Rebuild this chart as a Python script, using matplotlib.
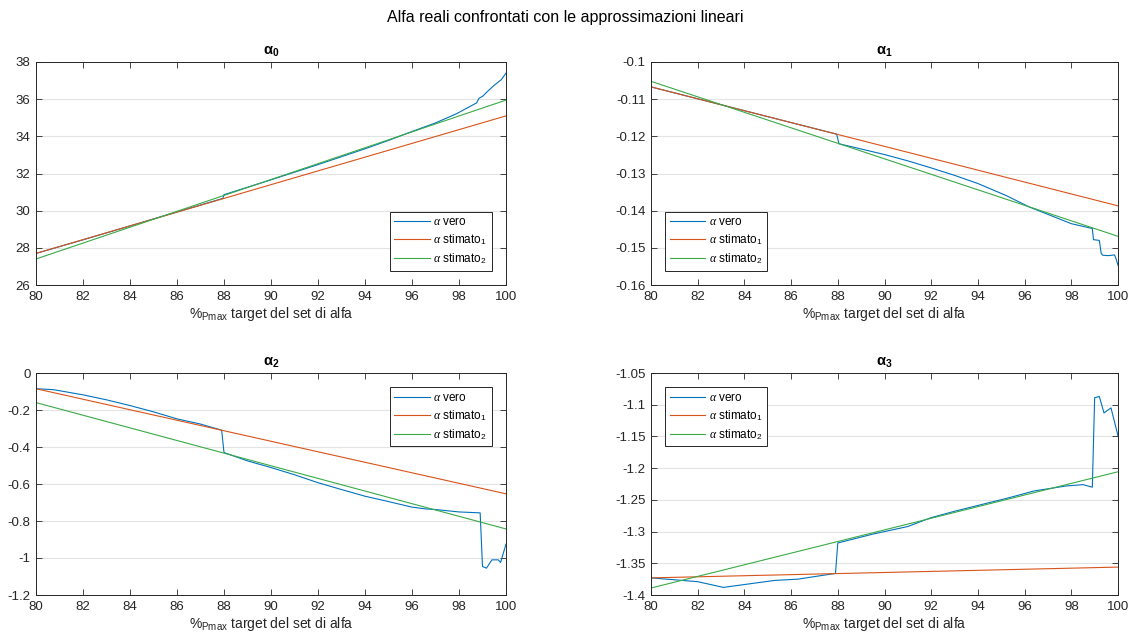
import numpy as np
import matplotlib
matplotlib.use("Agg")
import matplotlib.pyplot as plt

plt.rcParams['font.family'] = ['Liberation Sans', 'DejaVu Sans']
plt.rcParams['mathtext.fontset'] = 'custom'
plt.rcParams['mathtext.rm'] = 'Liberation Sans'
plt.rcParams['mathtext.it'] = 'Liberation Serif:italic'
plt.rcParams['mathtext.bf'] = 'Liberation Sans:bold'

# ---- data ----
x_range = [80, 100]

# alpha_0
a0_vero_x = [80, 82, 84, 86, 87.95, 88.0, 90, 92, 94, 95, 96, 97, 97.9, 98.75, 98.85, 99.0, 99.2, 99.5, 99.8, 100]
a0_vero_y = [27.7, 28.43, 29.18, 29.93, 30.66, 30.86, 31.66, 32.48, 33.33, 33.78, 34.26, 34.72, 35.22, 35.8, 36.05, 36.15, 36.4, 36.75, 37.05, 37.4]
a0_st1 = [27.7, 35.1]
a0_st2 = [27.4, 35.95]

# alpha_1
a1_vero_x = [80, 82, 84, 86, 87.95, 88.05, 89, 90, 91, 92, 93, 94, 95.2, 96.2, 97, 98, 98.9, 98.95, 99.2, 99.28, 99.35, 99.6, 99.85, 99.92, 100]
a1_vero_y = [-0.1067, -0.1099, -0.1131, -0.1163, -0.1194, -0.1220, -0.1234, -0.1249, -0.1266, -0.1285, -0.1305, -0.1327, -0.1359, -0.1390, -0.1410, -0.1435, -0.1448, -0.1478, -0.1480, -0.1515, -0.1520, -0.1521, -0.1519, -0.1530, -0.1547]
a1_st1 = [-0.1067, -0.1387]
a1_st2 = [-0.1052, -0.1469]

# alpha_2
a2_vero_x = [80, 80.74, 82, 83, 84, 85, 86, 87, 87.9, 88.0, 89, 90, 91, 92, 93, 94, 95, 96, 96.6, 97, 98, 98.9, 99.0, 99.17, 99.4, 99.67, 99.77, 100]
a2_vero_y = [-0.085, -0.090, -0.118, -0.145, -0.176, -0.210, -0.248, -0.276, -0.309, -0.430, -0.475, -0.511, -0.550, -0.593, -0.630, -0.666, -0.695, -0.725, -0.735, -0.738, -0.751, -0.756, -1.046, -1.055, -1.010, -1.010, -1.024, -0.925]
a2_st1 = [-0.085, -0.653]
a2_st2 = [-0.160, -0.843]

# alpha_3
a3_vero_x = [80, 81, 82, 83.1, 83.9, 85.3, 86.3, 87.0, 87.9, 88.0, 89.5, 91, 92.0, 93, 94.2, 95.3, 96.4, 97.8, 98.5, 98.9, 99.0, 99.2, 99.4, 99.7, 100]
a3_vero_y = [-1.373, -1.376, -1.379, -1.388, -1.384, -1.377, -1.375, -1.371, -1.366, -1.318, -1.304, -1.292, -1.278, -1.268, -1.257, -1.247, -1.236, -1.228, -1.226, -1.230, -1.089, -1.087, -1.113, -1.105, -1.149]
a3_st1 = [-1.373, -1.356]
a3_st2 = [-1.389, -1.2057]

x_ticks = [80, 82, 84, 86, 88, 90, 92, 94, 96, 98, 100]

panels = [
    dict(title='α$_\\mathbf{0}$', vx=a0_vero_x, vy=a0_vero_y, s1=a0_st1, s2=a0_st2,
         ylim=(26, 38), yticks=[26, 28, 30, 32, 34, 36, 38],
         ylabels=['26', '28', '30', '32', '34', '36', '38'], loc='lower right'),
    dict(title='α$_\\mathbf{1}$', vx=a1_vero_x, vy=a1_vero_y, s1=a1_st1, s2=a1_st2,
         ylim=(-0.16, -0.1), yticks=[-0.16, -0.15, -0.14, -0.13, -0.12, -0.11, -0.1],
         ylabels=['-0.16', '-0.15', '-0.14', '-0.13', '-0.12', '-0.11', '-0.1'], loc='lower left'),
    dict(title='α$_\\mathbf{2}$', vx=a2_vero_x, vy=a2_vero_y, s1=a2_st1, s2=a2_st2,
         ylim=(-1.2, 0), yticks=[-1.2, -1.0, -0.8, -0.6, -0.4, -0.2, 0],
         ylabels=['-1.2', '-1', '-0.8', '-0.6', '-0.4', '-0.2', '0'], loc='upper right'),
    dict(title='α$_\\mathbf{3}$', vx=a3_vero_x, vy=a3_vero_y, s1=a3_st1, s2=a3_st2,
         ylim=(-1.4, -1.05), yticks=[-1.4, -1.35, -1.3, -1.25, -1.2, -1.15, -1.1, -1.05],
         ylabels=['-1.4', '-1.35', '-1.3', '-1.25', '-1.2', '-1.15', '-1.1', '-1.05'], loc='upper left'),
]

fig = plt.figure(figsize=(11.3, 6.34), dpi=100)
positions = [
    [36/1130, 1-285/634, 470/1130, 223/634],
    [651/1130, 1-285/634, 467/1130, 223/634],
    [36/1130, 1-595/634, 470/1130, 222/634],
    [651/1130, 1-595/634, 467/1130, 222/634],
]

c_blue = '#0072BD'
c_orange = '#D95319'
c_green = '#3AAA48'
c_axis = '#262626'

for pos, p in zip(positions, panels):
    ax = fig.add_axes(pos)
    ax.plot(p['vx'], p['vy'], color=c_blue, lw=0.8, label=r'$\alpha$ vero')
    ax.plot(x_range, p['s1'], color=c_orange, lw=0.8, label=r'$\alpha$ stimato$_1$')
    ax.plot(x_range, p['s2'], color=c_green, lw=0.8, label=r'$\alpha$ stimato$_2$')
    ax.set_xlim(*x_range)
    ax.set_ylim(*p['ylim'])
    ax.set_xticks(x_ticks)
    ax.set_xticklabels([str(t) for t in x_ticks])
    ax.set_yticks(p['yticks'])
    ax.set_yticklabels(p['ylabels'])
    ax.grid(axis='y', color='#E3E3E3', lw=0.8)
    ax.set_axisbelow(True)
    ax.tick_params(direction='in', top=True, right=True, length=4, width=0.6,
                   colors=c_axis, labelsize=9.5, pad=4)
    for s in ax.spines.values():
        s.set_color(c_axis)
        s.set_linewidth(0.7)
    ax.set_title(p['title'], fontsize=10.5, fontweight='bold', color='black', pad=5)
    ax.set_xlabel(r'%$_{\mathrm{Pmax}}$ target del set di alfa', fontsize=10, color=c_axis, labelpad=2)
    leg = ax.legend(loc=p['loc'], fontsize=8.5, frameon=True, fancybox=False,
                    framealpha=1, edgecolor=c_axis, handlelength=3.0,
                    borderaxespad=1.2, borderpad=0.4, labelspacing=0.35, handletextpad=0.3)
    leg.get_frame().set_linewidth(0.7)

fig.suptitle('Alfa reali confrontati con le approssimazioni lineari', fontsize=11.5, y=0.985)
fig.savefig('out.png', dpi=100)
